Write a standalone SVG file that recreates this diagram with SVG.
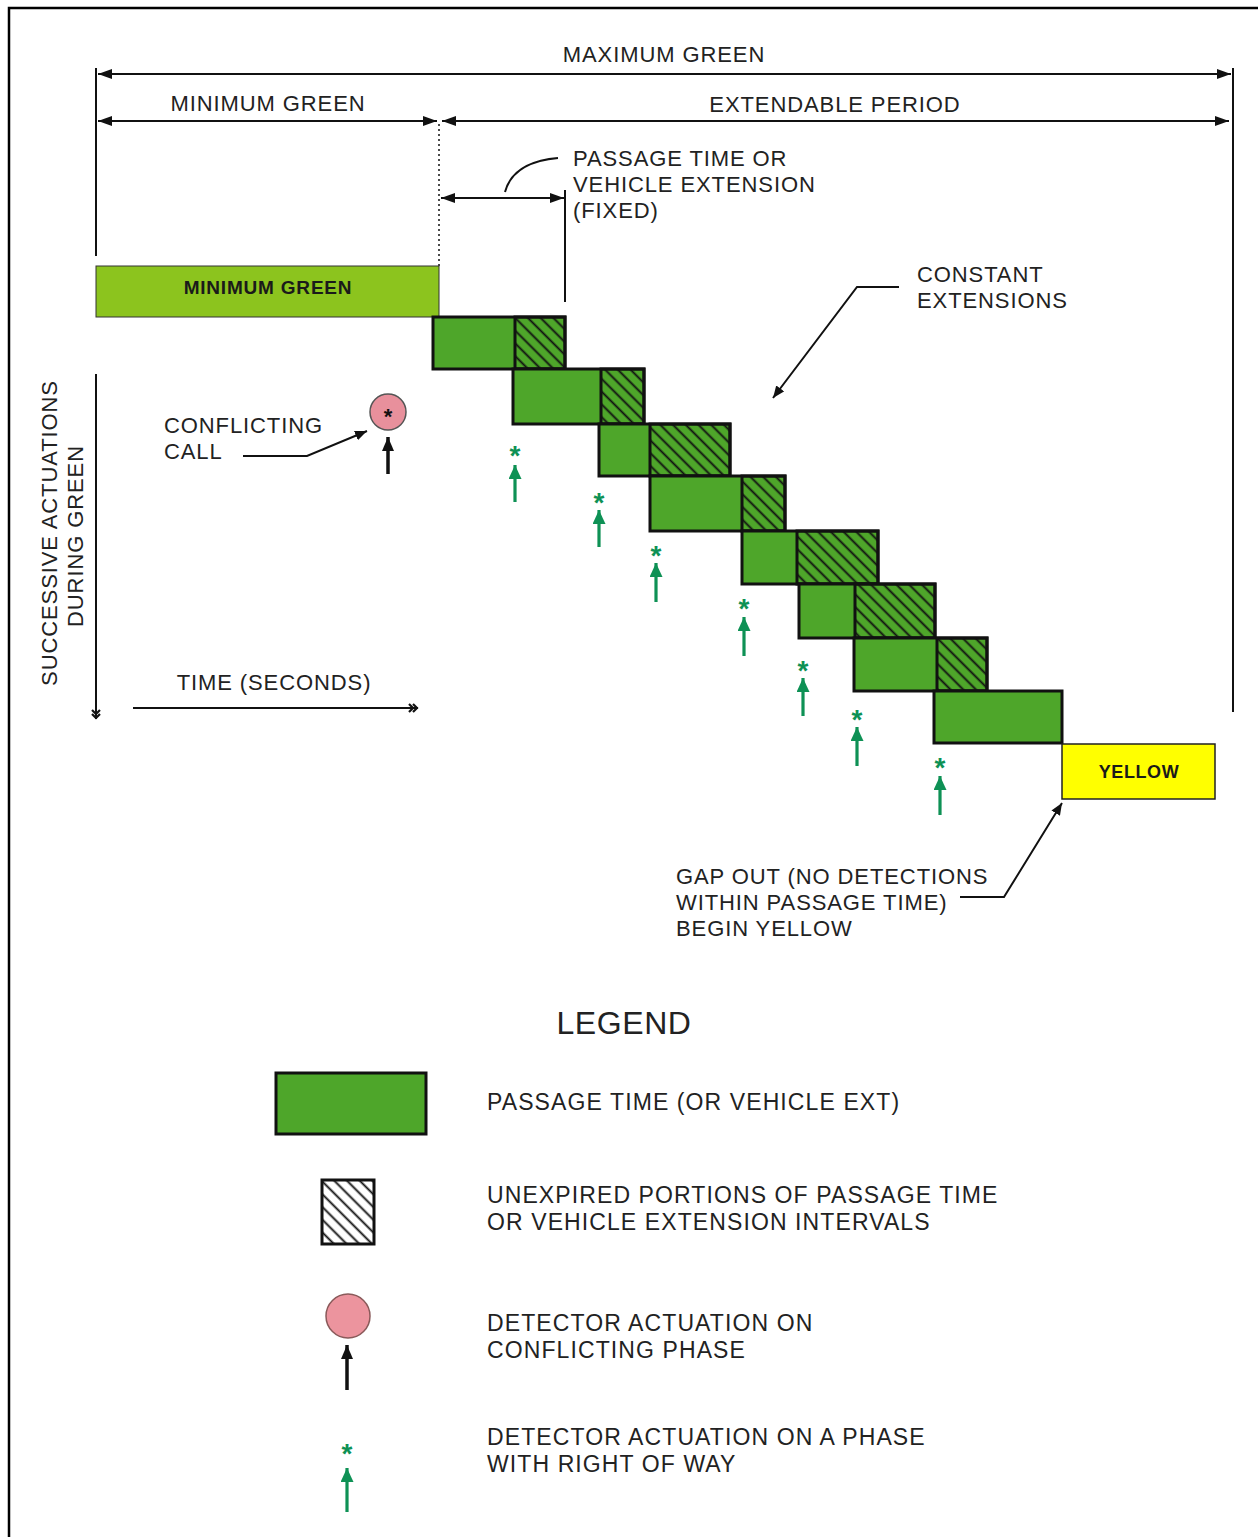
<svg xmlns="http://www.w3.org/2000/svg" width="1258" height="1537" viewBox="0 0 1258 1537">
<style>
.t{font-family:"Liberation Sans",Arial,sans-serif;font-size:22px;letter-spacing:0.9px;fill:#222}
.tl{font-family:"Liberation Sans",Arial,sans-serif;font-size:23px;letter-spacing:1.1px;fill:#222}
.tb{font-family:"Liberation Sans",Arial,sans-serif;font-size:19px;letter-spacing:0.8px;font-weight:bold;fill:#1a1a1a}
.ty{font-family:"Liberation Sans",Arial,sans-serif;font-size:18px;letter-spacing:0.6px;font-weight:bold;fill:#1a1a1a}
.lg{font-family:"Liberation Sans",Arial,sans-serif;font-size:32px;letter-spacing:0.6px;fill:#222}
.ln{stroke:#111;stroke-width:2;fill:none}
.box{fill:#4ea62a;stroke:#111;stroke-width:3}
.hat{fill:url(#hatch);stroke:#111;stroke-width:3}
.ga{stroke:#0e9155;stroke-width:3.2;fill:none}
.ast{font-family:"Liberation Sans",Arial,sans-serif;font-size:28px;font-weight:bold;fill:#0e9155}
</style>
<defs>
<pattern id="hatch" patternUnits="userSpaceOnUse" width="9" height="9" patternTransform="rotate(45)">
<line x1="0" y1="4.5" x2="9" y2="4.5" stroke="#111" stroke-width="1.9"/>
</pattern>
<marker id="ah" markerUnits="userSpaceOnUse" markerWidth="16" markerHeight="10" refX="14" refY="5" orient="auto-start-reverse">
<path d="M0,0 L14,5 L0,10 z" fill="#111"/>
</marker>
<marker id="ahs" markerUnits="userSpaceOnUse" markerWidth="14" markerHeight="10" refX="12" refY="5" orient="auto">
<path d="M0,0 L12,5 L0,10 z" fill="#111"/>
</marker>
<marker id="gh" markerUnits="userSpaceOnUse" markerWidth="16" markerHeight="14" refX="14" refY="6.5" orient="auto">
<path d="M0,0 L14,6.5 L0,13 z" fill="#0e9155"/>
</marker>
<marker id="bh" markerUnits="userSpaceOnUse" markerWidth="16" markerHeight="14" refX="14" refY="6" orient="auto">
<path d="M0,0 L14,6 L0,12 z" fill="#111"/>
</marker>
<marker id="dch" markerUnits="userSpaceOnUse" markerWidth="12" markerHeight="10" refX="10" refY="5" orient="auto">
<path d="M1,1 L5,5 L1,9 M5,1 L9,5 L5,9" stroke="#111" stroke-width="2.2" fill="none"/>
</marker>
</defs>

<rect x="9" y="8" width="1300" height="1600" fill="#fff" stroke="#000" stroke-width="2.5"/>

<g id="connectors">
<line class="ln" x1="96" y1="68" x2="96" y2="256"/>
<line class="ln" x1="1233" y1="68" x2="1233" y2="712"/>
<line class="ln" x1="98" y1="74" x2="1231" y2="74" marker-start="url(#ah)" marker-end="url(#ah)"/>
<line class="ln" x1="98" y1="121" x2="437" y2="121" marker-start="url(#ah)" marker-end="url(#ah)"/>
<line class="ln" x1="442" y1="121" x2="1229" y2="121" marker-start="url(#ah)" marker-end="url(#ah)"/>
<line x1="439" y1="124" x2="439" y2="266" stroke="#111" stroke-width="1.5" stroke-dasharray="2,3"/>
<line class="ln" x1="441" y1="198" x2="564" y2="198" marker-start="url(#ah)" marker-end="url(#ah)"/>
<line class="ln" x1="565" y1="190" x2="565" y2="302"/>
<path class="ln" d="M505,192 Q513,162 558,158" stroke-width="1.5"/>
<path class="ln" d="M243,456 L307,456 L367,431" stroke-width="1.5" marker-end="url(#ahs)"/>
<path class="ln" d="M899,287 L857,287 L773,398" stroke-width="1.5" marker-end="url(#ahs)"/>
<path class="ln" d="M960,897 L1004,897 L1062,803" stroke-width="1.5" marker-end="url(#ahs)"/>
<line class="ln" x1="96" y1="374" x2="96" y2="719" marker-end="url(#dch)"/>
<line class="ln" x1="133" y1="708" x2="418" y2="708" marker-end="url(#dch)"/>
</g>

<g id="labels">
<text class="t" x="664" y="62" text-anchor="middle">MAXIMUM GREEN</text>
<text class="t" x="268" y="111" text-anchor="middle">MINIMUM GREEN</text>
<text class="t" x="835" y="112" text-anchor="middle">EXTENDABLE PERIOD</text>
<text class="t" x="573" y="166">PASSAGE TIME OR</text>
<text class="t" x="573" y="192">VEHICLE EXTENSION</text>
<text class="t" x="573" y="218">(FIXED)</text>
<text class="t" x="917" y="282">CONSTANT</text>
<text class="t" x="917" y="308">EXTENSIONS</text>
<text class="t" x="164" y="433">CONFLICTING</text>
<text class="t" x="164" y="459">CALL</text>
<text class="t" x="274" y="690" text-anchor="middle">TIME (SECONDS)</text>
<text class="t" transform="translate(57,533) rotate(-90)" text-anchor="middle">SUCCESSIVE ACTUATIONS</text>
<text class="t" transform="translate(83,536) rotate(-90)" text-anchor="middle">DURING GREEN</text>
<text class="t" x="676" y="884">GAP OUT (NO DETECTIONS</text>
<text class="t" x="676" y="910">WITHIN PASSAGE TIME)</text>
<text class="t" x="676" y="936">BEGIN YELLOW</text>
</g>

<g id="min-green">
<rect x="96" y="266" width="343" height="51" fill="#8cc41e" stroke="#333" stroke-width="1"/>
<text class="tb" x="268" y="294" text-anchor="middle">MINIMUM GREEN</text>
</g>

<g id="ext-1"><rect class="box" x="433" y="317" width="132" height="52"/><rect class="hat" x="515" y="317" width="50" height="52"/></g>
<g id="ext-2"><rect class="box" x="513" y="369" width="131" height="55"/><rect class="hat" x="601" y="369" width="43" height="55"/></g>
<g id="ext-3"><rect class="box" x="599" y="424" width="131" height="52"/><rect class="hat" x="650" y="424" width="80" height="52"/></g>
<g id="ext-4"><rect class="box" x="650" y="476" width="135" height="55"/><rect class="hat" x="742" y="476" width="43" height="55"/></g>
<g id="ext-5"><rect class="box" x="742" y="531" width="136" height="53"/><rect class="hat" x="797" y="531" width="81" height="53"/></g>
<g id="ext-6"><rect class="box" x="799" y="584" width="136" height="54"/><rect class="hat" x="855" y="584" width="80" height="54"/></g>
<g id="ext-7"><rect class="box" x="854" y="638" width="133" height="53"/><rect class="hat" x="937" y="638" width="50" height="53"/></g>
<g id="ext-8"><rect class="box" x="934" y="691" width="128" height="52"/></g>

<g id="yellow">
<rect x="1062" y="744" width="153" height="55" fill="#ffff00" stroke="#222" stroke-width="1.5"/>
<text class="ty" x="1139" y="778" text-anchor="middle">YELLOW</text>
</g>

<g id="conflicting-call">
<circle cx="388" cy="412" r="18" fill="#e8909c" stroke="#555" stroke-width="1.5"/>
<text x="388" y="424" text-anchor="middle" font-family="Liberation Sans, Arial, sans-serif" font-size="22" font-weight="bold" fill="#111">*</text>
<line x1="388" y1="474" x2="388" y2="437" stroke="#111" stroke-width="3.5" marker-end="url(#bh)"/>
</g>

<g id="actuations">
<text class="ast" x="515" y="465" text-anchor="middle">*</text><line class="ga" x1="515" y1="502" x2="515" y2="465" marker-end="url(#gh)"/>
<text class="ast" x="599" y="512" text-anchor="middle">*</text><line class="ga" x1="599" y1="547" x2="599" y2="510" marker-end="url(#gh)"/>
<text class="ast" x="656" y="565" text-anchor="middle">*</text><line class="ga" x1="656" y1="602" x2="656" y2="563" marker-end="url(#gh)"/>
<text class="ast" x="744" y="618" text-anchor="middle">*</text><line class="ga" x1="744" y1="656" x2="744" y2="617" marker-end="url(#gh)"/>
<text class="ast" x="803" y="680" text-anchor="middle">*</text><line class="ga" x1="803" y1="716" x2="803" y2="678" marker-end="url(#gh)"/>
<text class="ast" x="857" y="729" text-anchor="middle">*</text><line class="ga" x1="857" y1="766" x2="857" y2="727" marker-end="url(#gh)"/>
<text class="ast" x="940" y="777" text-anchor="middle">*</text><line class="ga" x1="940" y1="815" x2="940" y2="776" marker-end="url(#gh)"/>
</g>

<g id="legend">
<text class="lg" x="624" y="1034" text-anchor="middle">LEGEND</text>
<g id="legend-passage">
<rect class="box" x="276" y="1073" width="150" height="61"/>
<text class="tl" x="487" y="1110">PASSAGE TIME (OR VEHICLE EXT)</text>
</g>
<g id="legend-unexpired">
<rect x="322" y="1180" width="52" height="64" fill="#fff"/>
<rect class="hat" x="322" y="1180" width="52" height="64"/>
<text class="tl" x="487" y="1203">UNEXPIRED PORTIONS OF PASSAGE TIME</text>
<text class="tl" x="487" y="1230">OR VEHICLE EXTENSION INTERVALS</text>
</g>
<g id="legend-conflicting">
<circle cx="348" cy="1316" r="22" fill="#ec949e" stroke="#8a5a5a" stroke-width="1.5"/>
<line x1="347" y1="1390" x2="347" y2="1345" stroke="#111" stroke-width="3.5" marker-end="url(#bh)"/>
<text class="tl" x="487" y="1331">DETECTOR ACTUATION ON</text>
<text class="tl" x="487" y="1358">CONFLICTING PHASE</text>
</g>
<g id="legend-row">
<text class="ast" x="347" y="1463" text-anchor="middle">*</text>
<line class="ga" x1="347" y1="1512" x2="347" y2="1468" marker-end="url(#gh)"/>
<text class="tl" x="487" y="1445">DETECTOR ACTUATION ON A PHASE</text>
<text class="tl" x="487" y="1472">WITH RIGHT OF WAY</text>
</g>
</g>
</svg>
